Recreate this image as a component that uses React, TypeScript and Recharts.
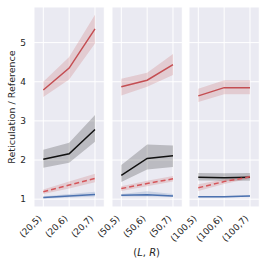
import React from "react";
import { ComposedChart, Line, Area, XAxis, YAxis, CartesianGrid } from "recharts";

// Facets: L values; within each facet the categories are (L,R)
const L_VALUES = [20, 50, 100];
const R_VALUES = [5, 6, 7];

// Red solid series (mean, lower, upper) per facet
const redMean = [[3.79, 4.35, 5.35], [3.87, 4.04, 4.44], [3.64, 3.85, 3.85]];
const redLo = [[3.61, 4.06, 4.98], [3.65, 3.87, 4.17], [3.48, 3.68, 3.68]];
const redHi = [[4.0, 4.63, 5.71], [4.08, 4.23, 4.71], [3.82, 4.04, 4.04]];

// Black solid series
const blackMean = [[2.02, 2.16, 2.78], [1.61, 2.04, 2.11], [1.56, 1.55, 1.56]];
const blackLo = [[1.8, 1.93, 2.47], [1.44, 1.76, 1.82], [1.48, 1.47, 1.47]];
const blackHi = [[2.26, 2.44, 3.15], [1.87, 2.4, 2.37], [1.67, 1.66, 1.67]];

// Red dashed series
const dashMean = [[1.19, 1.36, 1.53], [1.27, 1.4, 1.52], [1.29, 1.45, 1.57]];
const dashLo = [[1.13, 1.27, 1.43], [1.21, 1.33, 1.45], [1.21, 1.39, 1.53]];
const dashHi = [[1.25, 1.45, 1.65], [1.33, 1.47, 1.59], [1.38, 1.51, 1.61]];

// Blue solid series
const blueMean = [[1.04, 1.08, 1.12], [1.1, 1.11, 1.08], [1.06, 1.06, 1.08]];
const blueLo = [[1.01, 1.04, 1.07], [1.07, 1.07, 1.06], [1.04, 1.04, 1.06]];
const blueHi = [[1.07, 1.13, 1.19], [1.13, 1.2, 1.13], [1.08, 1.08, 1.1]];

const Y_TICKS = [1, 2, 3, 4, 5];
const Y_DOMAIN: [number, number] = [0.8, 5.91];

const RED = "#C44E52";
const DASH_RED = "#D5555A";
const BLUE = "#4C72B0";
const BLACK = "#111111";
const FONT = "DejaVu Sans";
const TEXT = "#262626";

const PANEL_LEFT = [34, 111.7, 189];
const PANEL_W = 70.3;
const PLOT_TOP = 7;
const PLOT_BOTTOM = 207;
const H = 266;

function buildData(p: number) {
  return R_VALUES.map((r, i) => ({
    label: `(${L_VALUES[p]},${r})`,
    red: redMean[p][i],
    redBand: [redLo[p][i], redHi[p][i]],
    black: blackMean[p][i],
    blackBand: [blackLo[p][i], blackHi[p][i]],
    dash: dashMean[p][i],
    dashBand: [dashLo[p][i], dashHi[p][i]],
    blue: blueMean[p][i],
    blueBand: [blueLo[p][i], blueHi[p][i]],
  }));
}

const XTick = (props: any) => {
  const { x, y, payload } = props;
  const ax = x - 1;
  const ay = y + 12;
  return (
    <text
      x={ax}
      y={ay}
      transform={`rotate(-45 ${ax} ${ay})`}
      textAnchor="end"
      fontSize={9}
      fontFamily={FONT}
      fill={TEXT}
    >
      {payload.value}
    </text>
  );
};

function Panel({ p }: { p: number }) {
  const data = buildData(p);
  const first = p === 0;
  const leftPad = first ? 34 : 45;
  const chartLeft = PANEL_LEFT[p] - leftPad;
  const width = leftPad + PANEL_W + 5;
  return (
    <div style={{ position: "absolute", left: chartLeft, top: 0, width, height: H }}>
      <ComposedChart
        width={width}
        height={H}
        data={data}
        margin={{ top: PLOT_TOP, right: 5, bottom: 0, left: first ? 0 : leftPad }}
      >
        <CartesianGrid fill="#EAEAF2" stroke="#FFFFFF" strokeWidth={1} />
        <XAxis
          dataKey="label"
          scale="point"
          padding={{ left: 9.3, right: 9.3 }}
          height={H - PLOT_BOTTOM}
          tickLine={false}
          axisLine={false}
          tickSize={0}
          tickMargin={0}
          interval={0}
          tick={<XTick />}
        />
        <YAxis
          type="number"
          domain={Y_DOMAIN}
          ticks={Y_TICKS}
          allowDataOverflow
          hide={!first}
          width={34}
          tickLine={false}
          axisLine={false}
          tickSize={0}
          tickMargin={8}
          tick={{ fontSize: 9, fontFamily: FONT, fill: TEXT }}
        />
        <Area dataKey="redBand" type="linear" stroke="none" fill={RED} fillOpacity={0.2} isAnimationActive={false} />
        <Area dataKey="blackBand" type="linear" stroke="none" fill="#000000" fillOpacity={0.2} isAnimationActive={false} />
        <Area dataKey="dashBand" type="linear" stroke="none" fill={RED} fillOpacity={0.2} isAnimationActive={false} />
        <Area dataKey="blueBand" type="linear" stroke="none" fill={BLUE} fillOpacity={0.2} isAnimationActive={false} />
        <Line dataKey="red" type="linear" stroke={RED} strokeWidth={1.5} dot={false} isAnimationActive={false} />
        <Line dataKey="black" type="linear" stroke={BLACK} strokeWidth={1.5} dot={false} isAnimationActive={false} />
        <Line dataKey="dash" type="linear" stroke={DASH_RED} strokeWidth={1.5} strokeDasharray="5 3" dot={false} isAnimationActive={false} />
        <Line dataKey="blue" type="linear" stroke={BLUE} strokeWidth={1.5} dot={false} isAnimationActive={false} />
      </ComposedChart>
    </div>
  );
}

export default function App() {
  const centerX = (PANEL_LEFT[0] + PANEL_LEFT[2] + PANEL_W) / 2;
  const centerY = (PLOT_TOP + PLOT_BOTTOM) / 2;
  return (
    <div style={{ position: "absolute", left: 0, top: 0, width: 266, height: H, background: "#fff", fontFamily: FONT }}>
      {L_VALUES.map((_, p) => (
        <Panel key={p} p={p} />
      ))}
      <svg width={266} height={H} style={{ position: "absolute", left: 0, top: 0, pointerEvents: "none" }}>
        <text
          x={15}
          y={centerY}
          transform={`rotate(-90 15 ${centerY})`}
          textAnchor="middle"
          fontSize={9.5}
          fontFamily={FONT}
          fill={TEXT}
        >
          Reticulation / Reference
        </text>
        <text x={centerX} y={255.5} textAnchor="middle" fontSize={10} fontFamily={FONT} fill={TEXT}>
          (<tspan fontStyle="italic">L</tspan>, <tspan fontStyle="italic">R</tspan>)
        </text>
      </svg>
    </div>
  );
}
